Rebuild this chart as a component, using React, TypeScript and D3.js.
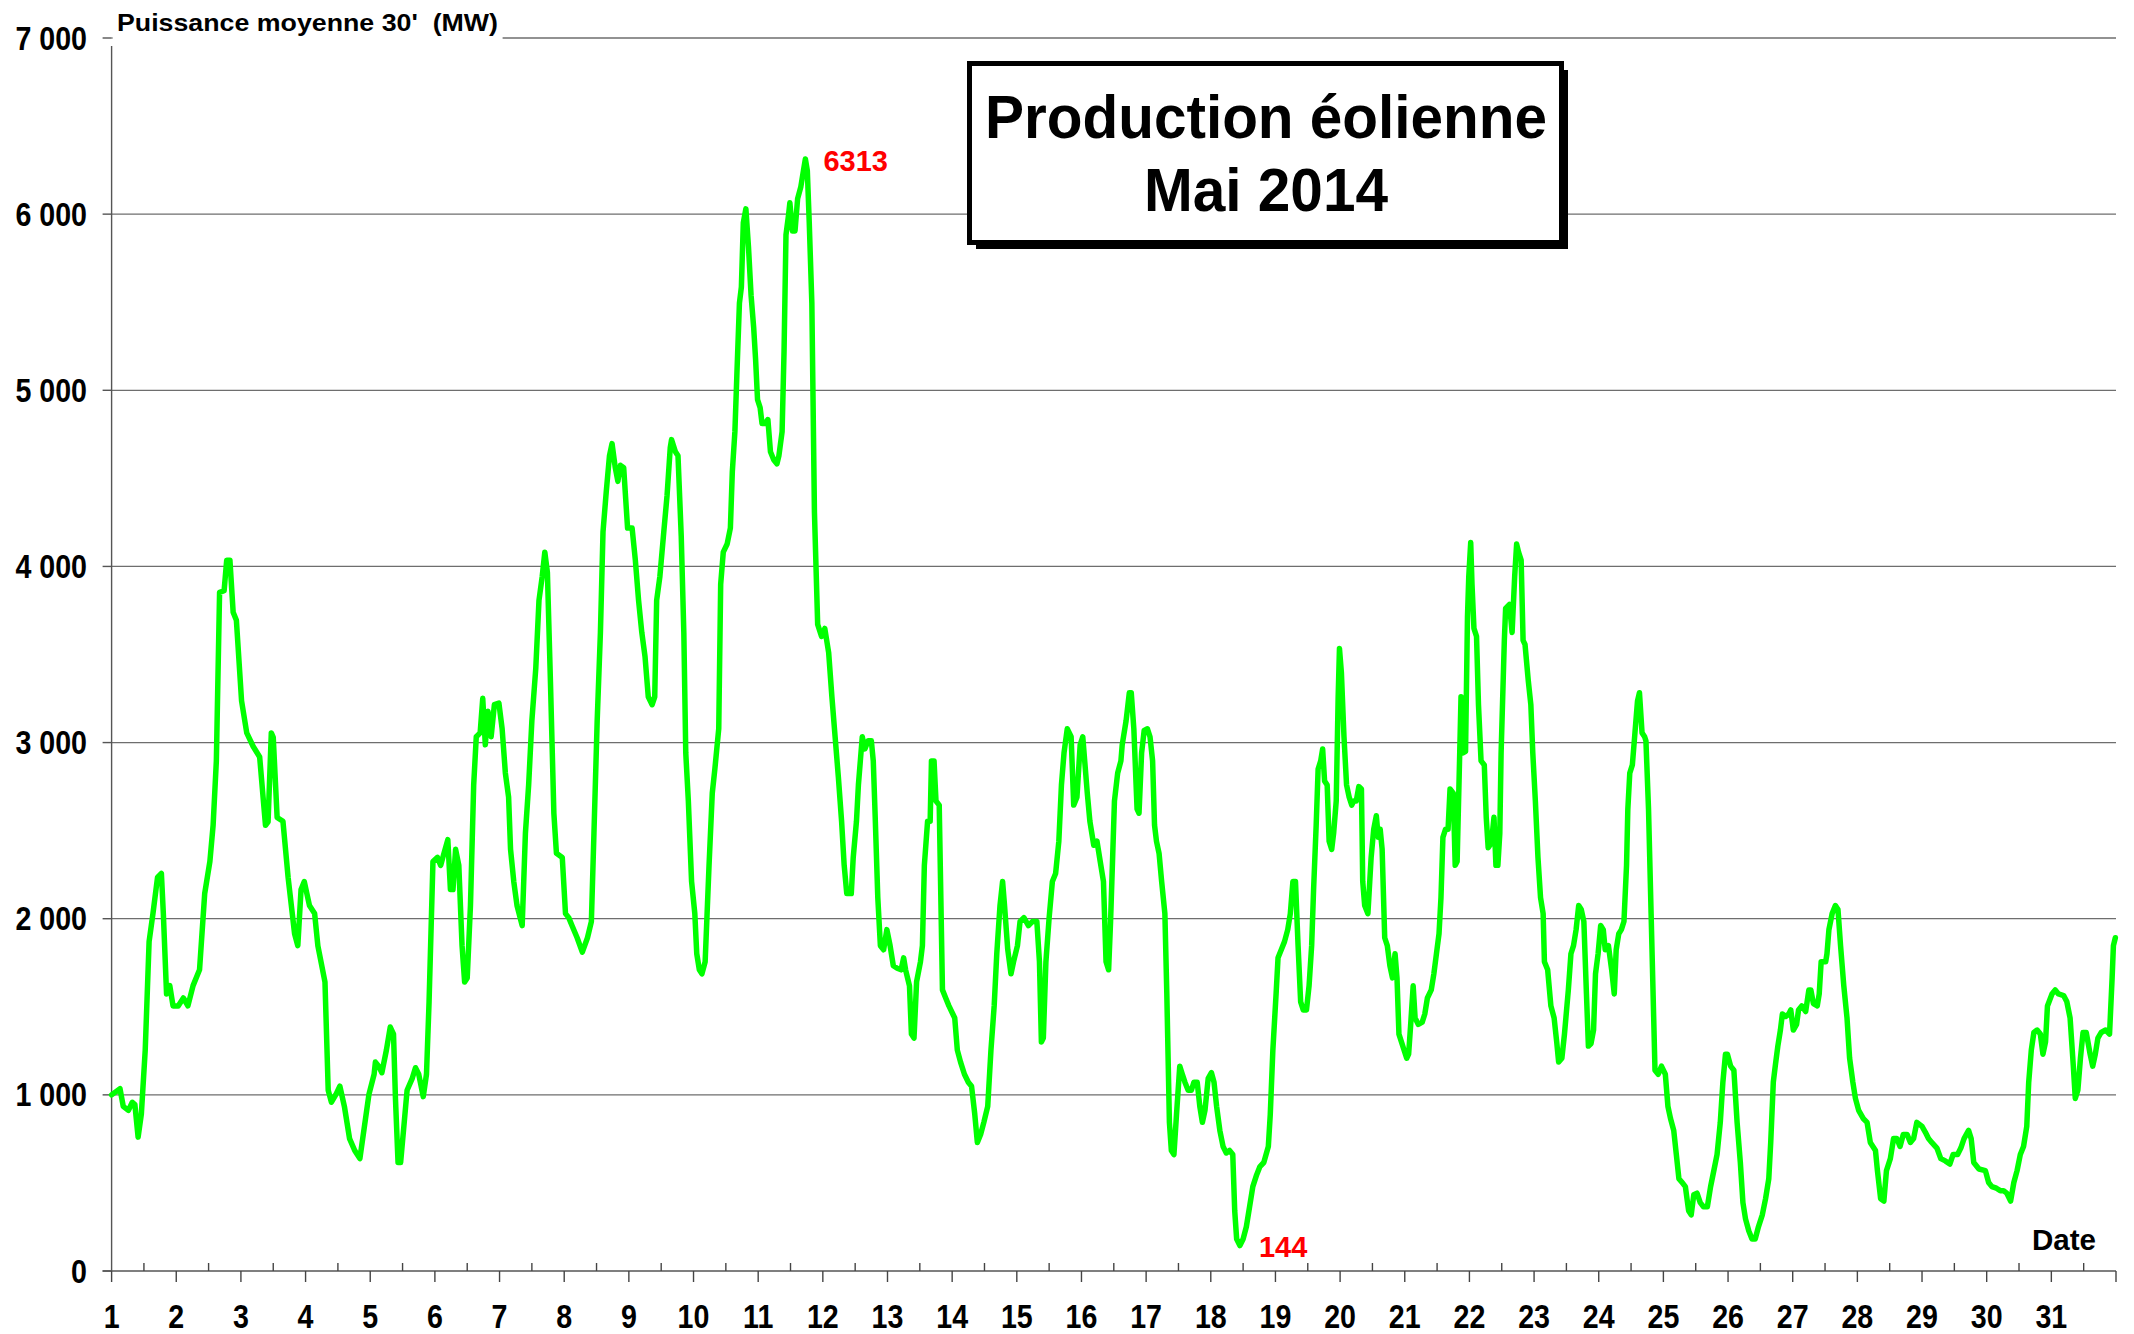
import React, { useEffect } from "react";
import * as d3 from "d3";

// ---- Data: half-hourly wind output (MW), [day, MW] ----
const week1: [number, number][] = [
  [1.0, 1000], [1.13, 1035], [1.18, 935], [1.26, 912], [1.32, 958], [1.36, 945], [1.41, 760], [1.46, 890],
  [1.52, 1254], [1.58, 1870], [1.64, 2030], [1.71, 2234], [1.77, 2257], [1.8, 2030], [1.85, 1573], [1.9, 1620],
  [1.95, 1505], [2.03, 1505], [2.11, 1550], [2.18, 1505], [2.26, 1620], [2.36, 1710], [2.44, 2143], [2.52, 2325],
  [2.57, 2530], [2.62, 2895], [2.67, 3853], [2.74, 3862], [2.78, 4035], [2.83, 4035], [2.88, 3740], [2.93, 3694],
  [3.01, 3237], [3.09, 3055], [3.19, 2978], [3.29, 2918], [3.38, 2530], [3.42, 2550], [3.47, 3055], [3.5, 3030],
  [3.56, 2575], [3.65, 2553], [3.73, 2234], [3.83, 1915], [3.88, 1847], [3.93, 2166], [3.98, 2211], [4.06, 2075],
  [4.14, 2030], [4.19, 1847], [4.3, 1641], [4.35, 1026], [4.4, 958], [4.47, 1003], [4.53, 1049], [4.6, 935],
  [4.68, 752], [4.76, 684], [4.84, 638],
];
const week2: [number, number][] = [
  [4.98, 1003], [5.06, 1117], [5.08, 1186], [5.13, 1163], [5.18, 1126], [5.25, 1254], [5.31, 1385], [5.36, 1345],
  [5.39, 980], [5.43, 616], [5.47, 616], [5.52, 821], [5.57, 1026], [5.65, 1094], [5.7, 1154], [5.75, 1117],
  [5.82, 990], [5.87, 1117], [5.91, 1528], [5.97, 2325], [6.04, 2348], [6.09, 2303], [6.14, 2371], [6.2, 2449],
  [6.24, 2166], [6.28, 2166], [6.32, 2394], [6.37, 2303], [6.42, 1847], [6.46, 1641], [6.5, 1664], [6.55, 2075],
  [6.6, 2759], [6.64, 3033], [6.7, 3055], [6.74, 3251], [6.78, 2987], [6.82, 3178], [6.87, 3033], [6.92, 3215],
  [6.99, 3224], [7.04, 3078], [7.09, 2827], [7.14, 2690], [7.17, 2394], [7.22, 2211], [7.27, 2075], [7.35, 1961],
  [7.4, 2485], [7.45, 2759], [7.5, 3124], [7.56, 3420], [7.61, 3808], [7.66, 3944], [7.7, 4081], [7.74, 3967],
  [7.79, 3306], [7.84, 2599], [7.88, 2371], [7.97, 2348], [8.02, 2029], [8.07, 2006], [8.12, 1961], [8.2, 1892],
  [8.28, 1810], [8.36, 1892], [8.42, 1983], [8.46, 2485], [8.51, 3124], [8.56, 3625], [8.6, 4195], [8.65, 4423],
  [8.7, 4628], [8.74, 4697], [8.79, 4560], [8.83, 4483], [8.87, 4574], [8.92, 4560],
];
const week3: [number, number][] = [
  [8.98, 4218], [9.05, 4218], [9.1, 4036], [9.15, 3808], [9.2, 3625], [9.25, 3488], [9.3, 3260], [9.36, 3215],
  [9.4, 3260], [9.43, 3808], [9.48, 3944], [9.54, 4195], [9.59, 4400], [9.64, 4674], [9.66, 4720], [9.72, 4651],
  [9.76, 4628], [9.81, 4172], [9.85, 3625], [9.88, 2941], [9.92, 2668], [9.97, 2211], [10.02, 2029], [10.05, 1801],
  [10.09, 1710], [10.13, 1687], [10.18, 1756], [10.24, 2303], [10.29, 2713], [10.33, 2850], [10.39, 3078],
  [10.42, 3899], [10.46, 4081], [10.52, 4127], [10.57, 4218], [10.6, 4537], [10.64, 4765], [10.67, 5084],
  [10.71, 5495], [10.74, 5586], [10.77, 5951], [10.81, 6030], [10.85, 5814], [10.89, 5540], [10.93, 5358],
  [10.96, 5175], [10.99, 4947], [11.03, 4902], [11.06, 4811], [11.11, 4811], [11.15, 4834], [11.19, 4651],
  [11.24, 4606], [11.29, 4583], [11.32, 4628], [11.37, 4765], [11.4, 5221], [11.43, 5882], [11.47, 5996],
  [11.49, 6065], [11.53, 5905], [11.57, 5905], [11.61, 6088], [11.66, 6156], [11.7, 6247], [11.73, 6313],
  [11.76, 6247], [11.79, 5951], [11.83, 5495], [11.87, 4309], [11.92, 3671], [11.98, 3603], [12.03, 3648],
  [12.09, 3511], [12.14, 3260], [12.19, 3032], [12.24, 2804], [12.29, 2553], [12.33, 2303], [12.37, 2143],
  [12.44, 2143], [12.47, 2348], [12.52, 2553], [12.55, 2759], [12.58, 2896], [12.61, 3033], [12.65, 2964],
  [12.7, 3010], [12.75, 3010], [12.78, 2896], [12.81, 2576], [12.85, 2120], [12.89, 1847], [12.94, 1824],
  [12.99, 1938],
];
const week4: [number, number][] = [
  [13.04, 1847], [13.09, 1733], [13.15, 1719], [13.21, 1710], [13.25, 1778], [13.28, 1710], [13.34, 1619],
  [13.37, 1345], [13.41, 1322], [13.45, 1642], [13.51, 1756], [13.54, 1847], [13.57, 2303], [13.62, 2553],
  [13.66, 2553], [13.68, 2896], [13.72, 2896], [13.75, 2668], [13.8, 2645], [13.85, 1596], [13.9, 1550],
  [13.95, 1505], [14.01, 1459], [14.04, 1436], [14.08, 1254], [14.13, 1186], [14.19, 1117], [14.25, 1072],
  [14.3, 1049], [14.35, 889], [14.39, 730], [14.44, 775], [14.49, 844], [14.55, 935], [14.6, 1254], [14.65, 1505],
  [14.69, 1801], [14.74, 2075], [14.78, 2211], [14.81, 2075], [14.86, 1824], [14.91, 1687], [14.95, 1756],
  [15.01, 1847], [15.05, 1984], [15.11, 2006], [15.18, 1961], [15.24, 1984], [15.31, 1984], [15.35, 1756],
  [15.38, 1300], [15.41, 1322], [15.45, 1756], [15.5, 2006], [15.55, 2211], [15.6, 2257], [15.65, 2440],
  [15.69, 2759], [15.73, 2941], [15.78, 3078], [15.84, 3033], [15.88, 2645], [15.93, 2690], [15.98, 2987],
  [16.02, 3033], [16.05, 2896], [16.09, 2713], [16.13, 2553], [16.19, 2417], [16.24, 2440], [16.29, 2325],
  [16.34, 2211], [16.38, 1756], [16.42, 1710], [16.45, 1984], [16.51, 2668], [16.56, 2827], [16.61, 2896],
  [16.63, 2987], [16.69, 3124], [16.74, 3283], [16.77, 3283], [16.81, 3078], [16.86, 2622], [16.89, 2599],
  [16.93, 2941], [16.97, 3069],
];
const week5: [number, number][] = [
  [17.02, 3078], [17.06, 3033], [17.1, 2896], [17.13, 2531], [17.16, 2440], [17.2, 2371], [17.24, 2211],
  [17.29, 2029], [17.32, 1573], [17.36, 844], [17.39, 684], [17.43, 661], [17.47, 889], [17.52, 1163],
  [17.56, 1117], [17.6, 1072], [17.65, 1026], [17.7, 1026], [17.74, 1072], [17.79, 1072], [17.83, 935],
  [17.87, 844], [17.91, 912], [17.96, 1094], [18.01, 1126], [18.05, 1072], [18.09, 935], [18.14, 798],
  [18.19, 707], [18.24, 670], [18.29, 684], [18.34, 661], [18.37, 342], [18.4, 182], [18.45, 144], [18.5, 182],
  [18.55, 251], [18.6, 365], [18.65, 479], [18.71, 547], [18.76, 593], [18.82, 616], [18.89, 707], [18.92, 889],
  [18.96, 1254], [19.01, 1573], [19.04, 1778], [19.09, 1824], [19.14, 1870], [19.19, 1938], [19.23, 2029],
  [19.27, 2211], [19.31, 2211], [19.35, 1847], [19.39, 1528], [19.43, 1482], [19.48, 1482], [19.52, 1619],
  [19.56, 1847], [19.59, 2166], [19.63, 2531], [19.66, 2850], [19.7, 2896], [19.73, 2964], [19.76, 2782],
  [19.8, 2759], [19.83, 2440], [19.87, 2394], [19.9, 2485], [19.94, 2668], [19.97, 3260], [19.99, 3534],
  [20.02, 3397], [20.06, 3033], [20.1, 2759], [20.14, 2690], [20.18, 2645], [20.21, 2668], [20.25, 2668],
  [20.29, 2750], [20.33, 2736], [20.35, 2211], [20.38, 2075], [20.43, 2029], [20.48, 2348], [20.52, 2508],
  [20.56, 2585], [20.59, 2462], [20.62, 2508], [20.65, 2394], [20.69, 1892], [20.73, 1847], [20.77, 1733],
  [20.81, 1664], [20.85, 1801], [20.88, 1664], [20.91, 1345],
];
const week6: [number, number][] = [
  [21.03, 1208], [21.06, 1231], [21.09, 1391], [21.13, 1619], [21.16, 1436], [21.21, 1400], [21.27, 1413],
  [21.31, 1459], [21.35, 1550], [21.41, 1596], [21.45, 1687], [21.49, 1801], [21.53, 1915], [21.56, 2120],
  [21.59, 2462], [21.63, 2508], [21.67, 2508], [21.7, 2736], [21.75, 2713], [21.78, 2303], [21.81, 2325],
  [21.85, 2941], [21.87, 3260], [21.9, 2941], [21.94, 2950], [21.97, 3716], [21.99, 3944], [22.02, 4136],
  [22.04, 3899], [22.07, 3648], [22.11, 3603], [22.14, 3215], [22.18, 2896], [22.23, 2873], [22.26, 2576],
  [22.29, 2403], [22.34, 2430], [22.38, 2576], [22.41, 2303], [22.44, 2303], [22.47, 2485], [22.49, 2941],
  [22.54, 3580], [22.56, 3762], [22.62, 3785], [22.66, 3625], [22.7, 3944], [22.73, 4127], [22.76, 4081],
  [22.8, 4036], [22.83, 3580], [22.86, 3557], [22.91, 3352], [22.95, 3215], [22.98, 2941], [23.02, 2668],
  [23.06, 2348], [23.1, 2120], [23.14, 2029], [23.16, 1756], [23.21, 1710], [23.26, 1505], [23.31, 1436],
  [23.35, 1300], [23.38, 1186], [23.43, 1208], [23.47, 1345], [23.53, 1596], [23.57, 1801], [23.61, 1847],
  [23.65, 1938], [23.69, 2075], [23.73, 2052], [23.77, 1984], [23.81, 1573], [23.84, 1277], [23.88, 1290],
  [23.92, 1368], [23.95, 1687], [23.99, 1801], [24.03, 1961], [24.07, 1938], [24.1, 1824], [24.15, 1847],
  [24.2, 1710], [24.24, 1573], [24.27, 1824], [24.31, 1915], [24.35, 1938], [24.39, 1984], [24.43, 2303],
  [24.45, 2622], [24.48, 2827], [24.52, 2873], [24.56, 3055], [24.6, 3237], [24.63, 3283], [24.67, 3055],
  [24.71, 3033], [24.73, 3010], [24.77, 2622], [24.81, 2029], [24.87, 1140], [24.92, 1117], [24.97, 1163],
];
const week7: [number, number][] = [
  [25.03, 1117], [25.07, 935], [25.11, 866], [25.16, 798], [25.2, 661], [25.24, 524], [25.29, 502], [25.34, 479],
  [25.39, 342], [25.43, 319], [25.47, 433], [25.52, 442], [25.57, 388], [25.62, 365], [25.68, 365], [25.73, 479],
  [25.78, 570], [25.83, 661], [25.88, 844], [25.92, 1072], [25.96, 1231], [25.99, 1231], [26.04, 1163],
  [26.09, 1140], [26.14, 844], [26.19, 616], [26.23, 388], [26.27, 296], [26.32, 228], [26.37, 182], [26.42, 182],
  [26.47, 251], [26.53, 319], [26.58, 410], [26.63, 524], [26.66, 730], [26.7, 1072], [26.73, 1163],
  [26.77, 1277], [26.81, 1368], [26.84, 1459], [26.89, 1445], [26.94, 1459], [26.97, 1482], [27.01, 1368],
  [27.06, 1400], [27.09, 1482], [27.14, 1505], [27.2, 1473], [27.25, 1596], [27.28, 1596], [27.32, 1518],
  [27.38, 1505], [27.41, 1573], [27.44, 1756], [27.51, 1756], [27.53, 1801], [27.56, 1938], [27.61, 2029],
  [27.66, 2075], [27.7, 2052], [27.74, 1847], [27.79, 1619], [27.84, 1436], [27.88, 1208], [27.93, 1072],
  [27.97, 980], [28.02, 912], [28.09, 866],
];
const week8: [number, number][] = [
  [28.15, 844], [28.2, 730], [28.28, 684], [28.31, 570], [28.36, 410], [28.41, 397], [28.45, 570], [28.51, 638],
  [28.56, 752], [28.61, 752], [28.66, 707], [28.71, 775], [28.77, 775], [28.82, 730], [28.87, 752], [28.92, 844],
  [29.0, 821], [29.05, 789], [29.1, 752], [29.15, 730], [29.23, 698], [29.29, 638], [29.36, 625], [29.43, 607],
  [29.48, 661], [29.55, 661], [29.6, 698], [29.65, 752], [29.72, 798], [29.76, 752], [29.8, 616], [29.88, 579],
  [29.98, 570], [30.03, 502], [30.08, 479], [30.15, 470], [30.21, 456], [30.26, 456], [30.31, 442], [30.37, 397],
  [30.42, 502], [30.47, 570], [30.52, 661], [30.57, 707], [30.62, 821], [30.65, 1072], [30.69, 1254],
  [30.73, 1354], [30.78, 1368], [30.83, 1345], [30.87, 1231], [30.91, 1300], [30.94, 1505], [31.01, 1573],
  [31.06, 1596], [31.11, 1573], [31.19, 1564], [31.24, 1528], [31.29, 1436], [31.34, 1163], [31.37, 980],
  [31.41, 1026], [31.45, 1208], [31.49, 1354], [31.54, 1354], [31.6, 1231], [31.64, 1163], [31.68, 1231],
  [31.72, 1322], [31.77, 1354], [31.84, 1368], [31.9, 1345], [31.94, 1664], [31.96, 1847], [31.99, 1892],
];

const dayLabels: number[] = d3.range(1, 32);
const yTicks: number[] = [0, 1000, 2000, 3000, 4000, 5000, 6000, 7000];
const maxPoint = { day: 11.73, value: 6313, label: "6313" };
const minPoint = { day: 18.45, value: 144, label: "144" };
const axisTitle = "Puissance moyenne 30'  (MW)";
const titleLines = ["Production éolienne", "Mai 2014"];
const xAxisTitle = "Date";

const W = 2134;
const H = 1334;
const FONT = "'Liberation Sans', Arial, Helvetica, sans-serif";

export default function App() {
  useEffect(() => {
    document.body.style.margin = "0";
    document.body.style.overflow = "hidden";
  }, []);

  const x = d3.scaleLinear().domain([1, 32]).range([111.6, 2116]);
  const y = d3.scaleLinear().domain([0, 7000]).range([1271, 38]);
  const series = [...week1, ...week2, ...week3, ...week4, ...week5, ...week6, ...week7, ...week8];
  const line = d3
    .line<[number, number]>()
    .x((d) => x(d[0]))
    .y((d) => y(d[1]));
  const fmt = (v: number) => d3.format(",")(v).replace(/,/g, " ");
  const x0 = x(1);
  const x1 = x(32);
  const y0 = y(0);

  return (
    <svg
      width={W}
      height={H}
      style={{ position: "absolute", left: 0, top: 0, display: "block", background: "#fff" }}
      fontFamily={FONT}
    >
      <rect x={0} y={0} width={W} height={H} fill="#fff" />
      {/* gridlines */}
      {yTicks.filter((v) => v > 0).map((v) => (
        <line key={"g" + v} x1={x0} x2={x1} y1={y(v)} y2={y(v)} stroke="#6e6e6e" strokeWidth={1.3} />
      ))}
      {/* y ticks */}
      {yTicks.map((v) => (
        <line key={"yt" + v} x1={x0 - 9} x2={x0} y1={y(v)} y2={y(v)} stroke="#555" strokeWidth={1.4} />
      ))}
      {/* y axis */}
      <line x1={x0} x2={x0} y1={y(7000) + 8} y2={y0} stroke="#555" strokeWidth={1.4} />
      {/* x axis */}
      <line x1={x0 - 9} x2={x1} y1={y0} y2={y0} stroke="#555" strokeWidth={1.6} />
      {d3.range(1, 33).map((d) => (
        <line key={"xt" + d} x1={x(d)} x2={x(d)} y1={y0} y2={y0 + 11} stroke="#444" strokeWidth={1.4} />
      ))}
      {d3.range(1, 32).map((d) => (
        <line key={"xh" + d} x1={x(d + 0.5)} x2={x(d + 0.5)} y1={y0 - 8} y2={y0} stroke="#444" strokeWidth={1.4} />
      ))}
      {/* y tick labels */}
      {yTicks.map((v) => (
        <text
          key={"yl" + v}
          transform={`translate(87,${y(v) + 11.5}) scale(0.88,1)`}
          textAnchor="end"
          fontWeight="bold"
          fontSize={32.5}
          fill="#000"
        >
          {fmt(v)}
        </text>
      ))}
      {/* x tick labels */}
      {dayLabels.map((d) => (
        <text
          key={"xl" + d}
          transform={`translate(${x(d)},1328) scale(0.88,1)`}
          textAnchor="middle"
          fontWeight="bold"
          fontSize={32.5}
          fill="#000"
        >
          {d}
        </text>
      ))}
      {/* axis title with white background */}
      <rect x={x0 + 1} y={10} width={390} height={36} fill="#fff" />
      <text
        x={117}
        y={31}
        fontWeight="bold"
        fontSize={24}
        textLength={381}
        lengthAdjust="spacingAndGlyphs"
        style={{ whiteSpace: "pre" }}
        fill="#000"
      >
        {axisTitle}
      </text>
      {/* data line */}
      <path
        d={line(series) || ""}
        fill="none"
        stroke="#00FF00"
        strokeWidth={5.5}
        strokeLinejoin="round"
        strokeLinecap="round"
      />
      {/* annotations */}
      <text x={x(maxPoint.day) + 18} y={y(maxPoint.value) + 12} fontWeight="bold" fontSize={29} fill="#FF0000">
        {maxPoint.label}
      </text>
      <text x={x(minPoint.day) + 19} y={1257} fontWeight="bold" fontSize={29} fill="#FF0000">
        {minPoint.label}
      </text>
      <text x={2032} y={1250} fontWeight="bold" fontSize={29} textLength={64} lengthAdjust="spacingAndGlyphs" fill="#000">
        {xAxisTitle}
      </text>
      {/* title box */}
      <rect x={976} y={70} width={592} height={179} fill="#000" />
      <rect x={969.5} y={63.5} width={592} height={179} fill="#fff" stroke="#000" strokeWidth={5} />
      <text
        x={1266}
        y={138}
        textAnchor="middle"
        fontWeight="bold"
        fontSize={62}
        textLength={562}
        lengthAdjust="spacingAndGlyphs"
        fill="#000"
      >
        {titleLines[0]}
      </text>
      <text
        x={1266}
        y={211}
        textAnchor="middle"
        fontWeight="bold"
        fontSize={62}
        textLength={244}
        lengthAdjust="spacingAndGlyphs"
        fill="#000"
      >
        {titleLines[1]}
      </text>
    </svg>
  );
}
